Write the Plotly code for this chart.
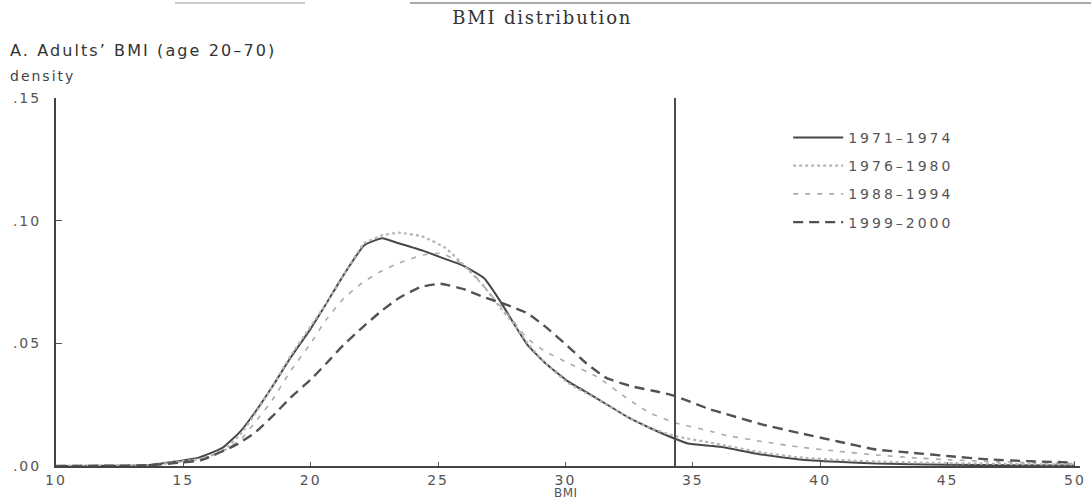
import plotly.graph_objects as go

# ---- data ----
bmi_7174 = [10, 12, 13.6, 15.6, 16.55, 17.25, 17.8, 18.5, 19.2, 20, 20.6, 21.3, 22.1, 22.8, 23.45, 24.4, 25.3, 26.0, 26.8, 27.4, 28.0, 28.5, 29.2, 30.1, 31.2, 32.5, 33.3, 34.3, 34.8, 35.7, 36.2, 37.7, 39.2, 40.7, 42.2, 45, 47.5, 50]
dens_7174 = [0.0, 0.0001, 0.0003, 0.0034, 0.0075, 0.0142, 0.0217, 0.0325, 0.044, 0.056, 0.066, 0.078, 0.090, 0.0928, 0.0908, 0.0878, 0.0843, 0.0816, 0.0766, 0.0678, 0.0576, 0.0495, 0.042, 0.0345, 0.0278, 0.0196, 0.0156, 0.0111, 0.0092, 0.0082, 0.0076, 0.0047, 0.0027, 0.0017, 0.0010, 0.0005, 0.0003, 0.0002]

bmi_7680 = [10, 12, 13.6, 15.7, 16.55, 17.25, 17.8, 18.5, 19.2, 20, 20.6, 21.3, 22.1, 22.8, 23.45, 24.4, 25.3, 26.0, 26.8, 27.4, 28.0, 28.5, 29.2, 30.1, 31.2, 32.5, 33.3, 34.3, 35.7, 36.2, 37.7, 39.2, 40.7, 42.2, 45, 47.5, 50]
dens_7680 = [0.0, 0.0001, 0.0003, 0.003, 0.0065, 0.013, 0.021, 0.0325, 0.0447, 0.057, 0.066, 0.078, 0.0908, 0.094, 0.0951, 0.0935, 0.0888, 0.082, 0.0732, 0.065, 0.0576, 0.0502, 0.042, 0.0339, 0.0275, 0.0196, 0.0156, 0.0122, 0.0095, 0.0085, 0.0055, 0.0035, 0.0025, 0.0018, 0.0012, 0.0008, 0.0006]

bmi_8894 = [10, 12, 13.6, 15.7, 16.55, 17.25, 17.8, 18.5, 19.2, 20, 20.6, 21.3, 22.0, 22.75, 23.45, 24.4, 25.1, 25.7, 26.3, 26.8, 27.4, 27.96, 28.5, 29.2, 30.1, 31.2, 32.5, 33.3, 34.3, 35.7, 36.2, 37.7, 39.2, 40.7, 42.2, 43.6, 45.1, 47, 50]
dens_8894 = [0.0, 0.0001, 0.0003, 0.0028, 0.006, 0.0108, 0.0176, 0.027, 0.0386, 0.050, 0.0596, 0.0684, 0.0745, 0.0793, 0.0827, 0.086, 0.0867, 0.084, 0.0793, 0.0732, 0.0657, 0.059, 0.052, 0.0467, 0.042, 0.0366, 0.027, 0.0217, 0.0176, 0.0142, 0.0127, 0.010, 0.0077, 0.006, 0.0045, 0.0034, 0.0025, 0.0017, 0.0010]

bmi_9900 = [10, 12, 13.6, 15.7, 17.1, 17.8, 18.5, 19.2, 20, 20.6, 21.3, 22.0, 22.75, 23.45, 24.3, 25.1, 26.0, 26.8, 27.7, 28.5, 29.2, 30.1, 30.8, 31.6, 32.6, 33.7, 34.3, 35.7, 36.2, 37.7, 39.2, 40.7, 42.2, 43.6, 45.1, 46.6, 48.1, 50]
dens_9900 = [0.0, 0.0001, 0.0003, 0.0024, 0.0088, 0.0135, 0.0203, 0.0278, 0.0352, 0.0417, 0.0495, 0.0562, 0.063, 0.0684, 0.0729, 0.0743, 0.0721, 0.0688, 0.0657, 0.0623, 0.0569, 0.0488, 0.042, 0.0359, 0.0325, 0.0301, 0.0285, 0.023, 0.0215, 0.017, 0.0134, 0.010, 0.0067, 0.0054, 0.004, 0.0027, 0.002, 0.0014]

series_names = ["1971\u20131974", "1976\u20131980", "1988\u20131994", "1999\u20132000"]
x_ticks = [10, 15, 20, 25, 30, 35, 40, 45, 50]
x_ticklabels = ["10", "15", "20", "25", "30", "35", "40", "45", "50"]
y_ticks = [0.0, 0.05, 0.10, 0.15]
y_ticklabels = [".00", ".05", ".10", ".15"]
ref_line_bmi = 34.3


def spaced(t, ls="1.5px"):
    return f'<span style="letter-spacing:{ls}">{t}</span>'


fig = go.Figure()
styles = [
    dict(color="#474747", width=2, dash="solid"),
    dict(color="#b5b5b5", width=2.2, dash="dot"),
    dict(color="#ababab", width=1.6, dash="5px,7px"),
    dict(color="#525252", width=2.4, dash="10px,6px"),
]
for name, xs, ys, st in zip(series_names,
                            [bmi_7174, bmi_7680, bmi_8894, bmi_9900],
                            [dens_7174, dens_7680, dens_8894, dens_9900],
                            styles):
    fig.add_trace(go.Scatter(x=xs, y=ys, mode="lines", name=spaced(name, "3px"), line=st,
                             line_shape="spline", line_smoothing=0.4,
                             legendgroup=name))

fig.add_shape(type="line", x0=ref_line_bmi, x1=ref_line_bmi, y0=0, y1=0.15,
              xref="x", yref="y", line=dict(color="#4a4a4a", width=2))

# faint scan lines at the top of the page
fig.add_shape(type="line", xref="paper", yref="paper", x0=(175-56)/1024, x1=(305-56)/1024,
              y0=(466-3)/368, y1=(466-3)/368, line=dict(color="#bbbbbb", width=1.5))
fig.add_shape(type="line", xref="paper", yref="paper", x0=(410-56)/1024, x1=(1091-56)/1024,
              y0=(466-3)/368, y1=(466-3)/368, line=dict(color="#aaaaaa", width=2))

fig.update_layout(
    width=1091, height=501,
    margin=dict(l=56, r=11, t=98, b=35),
    plot_bgcolor="white", paper_bgcolor="white",
    font=dict(family="DejaVu Sans, Liberation Sans, sans-serif", color="#444444", size=13),
    showlegend=True,
    legend=dict(x=0.715, y=0.935, xanchor="left", yanchor="top",
                font=dict(size=14, color="#555555"),
                bgcolor="rgba(0,0,0,0)", tracegroupgap=7,
                itemwidth=50),
    title=dict(text=spaced("BMI distribution", "1.8px"), x=0.497, xanchor="center", y=0.965, yanchor="middle",
               font=dict(family="DejaVu Serif, Liberation Serif, serif", size=18, color="#333333")),
    xaxis=dict(range=[10, 50.2], tickvals=x_ticks, ticktext=[spaced(t, "2px") for t in x_ticklabels],
               ticks="inside", ticklen=4, ticklabelstandoff=0, automargin=False,
               tickcolor="#555", showline=True, linecolor="#444", linewidth=2,
               showgrid=False, zeroline=False,
               tickfont=dict(size=14, color="#555")),
    yaxis=dict(range=[0, 0.15], tickvals=y_ticks, ticktext=[spaced(t, "2px") for t in y_ticklabels],
               ticks="inside", ticklabelstandoff=10, automargin=False,
               ticklen=6, tickcolor="#555", showline=True, linecolor="#444", linewidth=2,
               showgrid=False, zeroline=False, tickfont=dict(size=14, color="#555")),
    annotations=[
        dict(text=spaced("A. Adults\u2019 BMI (age 20\u201370)", "2.1px"), x=8, y=50,
             showarrow=False, xanchor="left", yanchor="middle",
             font=dict(size=16, color="#333")),
        dict(text=spaced("density", "2px"), x=8, y=76,
             showarrow=False, xanchor="left", yanchor="middle",
             font=dict(size=14, color="#444")),
        dict(text=spaced("BMI", "0.5px"), x=566, y=493,
             showarrow=False, xanchor="center", yanchor="middle",
             font=dict(size=12, color="#555")),
    ],
)
# convert pixel annotations to paper coords
for a in fig.layout.annotations:
    a.xref = "paper"
    a.yref = "paper"
    a.x = (a.x - 56) / 1024
    a.y = (466 - a.y) / 368

fig.write_html("out.html")
